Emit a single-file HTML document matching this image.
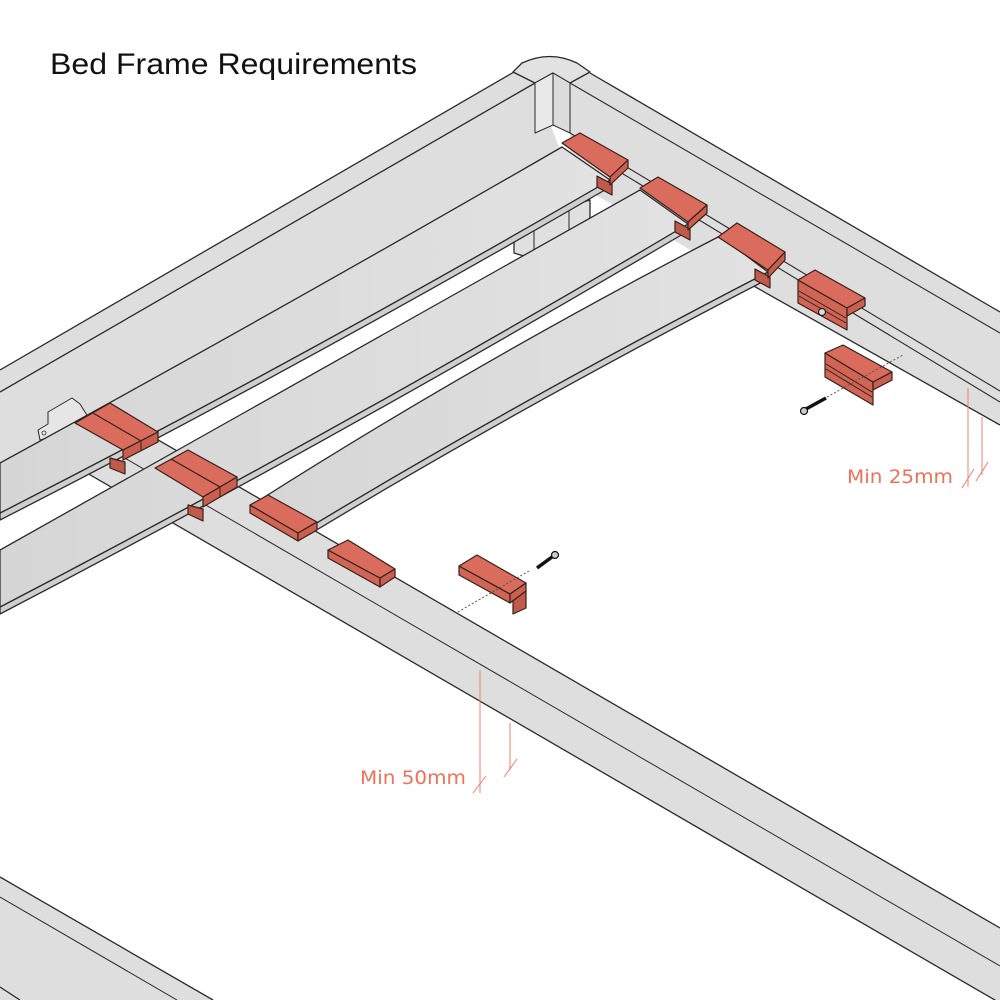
<!DOCTYPE html>
<html><head><meta charset="utf-8"><style>
html,body{margin:0;padding:0;background:#fff;}
svg{display:block;}
</style></head><body>
<svg width="1000" height="1000" viewBox="0 0 1000 1000" xmlns="http://www.w3.org/2000/svg">
<defs>
<linearGradient id="sl" x1="0" y1="0" x2="1" y2="0">
<stop offset="0" stop-color="#d6d6d6"/><stop offset="1" stop-color="#e2e2e2"/>
</linearGradient>
</defs>
<g stroke="#2a2a2a" stroke-width="1.3" stroke-linejoin="round" fill="#dedede">
<polygon points="0,370 514,72 535,83 560,150 0,475" stroke="none"/>
<line x1="0" y1="370" x2="514" y2="72"/>
<line x1="0" y1="392" x2="535" y2="83"/>
<polygon points="570,82 590,73 1000,312 1000,425 720,267 570,180" stroke="none"/>
<line x1="590" y1="73" x2="1000" y2="312"/>
<line x1="570" y1="83" x2="1000" y2="333" stroke-width="1.1"/>
<line x1="570" y1="133" x2="1000" y2="391" stroke-width="1.1"/>
<line x1="600" y1="160" x2="1000" y2="402" stroke-width="1.1"/>
<line x1="720" y1="267" x2="1000" y2="425"/>
<path d="M513,72 L522,63 Q550,50 577,63 L590,72 L570,83 L553,73 L535,83 Z" fill="#e2e2e2"/>
<polygon points="535,83 553,73 553,125 535,133" fill="#e8e8e8" stroke-width="1"/>
<polygon points="553,73 570,83 570,133 553,125" fill="#dcdcdc" stroke-width="1"/>
<polygon points="514,222 590,200 590,285 570,300 553,297 553,265 514,253" fill="#e0e0e0"/>
<line x1="534" y1="220" x2="534" y2="262" stroke-width="1"/>
<line x1="569" y1="205" x2="569" y2="300" stroke-width="1"/>
<polygon points="60,440 110,412 1000,928 1000,1003 60,458" stroke="none"/>
<line x1="110" y1="412" x2="1000" y2="928"/>
<line x1="80" y1="432" x2="1000" y2="966" stroke-width="1"/>
<line x1="80" y1="469" x2="1000" y2="1003"/>
<polygon points="0,877 213,1000 0,1000" stroke="none"/>
<line x1="0" y1="877" x2="213" y2="1000"/>
<line x1="0" y1="897" x2="177" y2="1000" stroke-width="1"/>
<line x1="0" y1="987" x2="20" y2="1000"/>
<path d="M40,440 L38,430 L48,424 L48,412 L72,398 L80,404 L90,420 L75,430 Z" fill="#e6e6e6" stroke-width="1"/>
<circle cx="44" cy="433" r="2" fill="none" stroke-width="0.8"/>
<path d="M0,513 Q300,360 610,180 L610,187 Q300,367 0,520 Z" fill="#cfcfcf"/>
<path d="M0,463 Q280,310 562,147 L610,180 Q300,360 0,513 Z" fill="url(#sl)"/>
<path d="M0,607 Q340,430 688,224 L688,231 Q340,437 0,614 Z" fill="#cfcfcf"/>
<path d="M0,550 Q320,370 640,190 L688,224 Q340,430 0,607 Z" fill="url(#sl)"/>
<path d="M310,527 Q520,400 768,272 L768,279 Q520,407 310,534 Z" fill="#cfcfcf"/>
<path d="M255,503 Q480,360 720,236 L768,272 Q520,400 310,527 Z" fill="url(#sl)"/>
</g>
<g stroke="#3a1f1a" stroke-width="1.2" stroke-linejoin="round" fill="#d96c5c">
<polygon points="597,176 612,184 612,195 597,187" fill="#c05a4b"/>
<polygon points="562,143 580,133 628,160 610,177"/>
<polygon points="610,177 628,160 628,168 610,185" fill="#c9604f"/>
<polygon points="675,221 690,229 690,240 675,232" fill="#c05a4b"/>
<polygon points="640,188 658,177 707,205 688,222"/>
<polygon points="688,222 707,205 707,213 688,230" fill="#c9604f"/>
<polygon points="755,269 770,277 770,288 755,280" fill="#c05a4b"/>
<polygon points="718,237 737,223 785,252 768,270"/>
<polygon points="768,270 785,252 785,260 768,278" fill="#c9604f"/>
<polygon points="798,280 847,308 847,330 798,303" fill="#cf6555"/>
<polygon points="798,280 815,270 865,298 847,308"/>
<polygon points="847,308 865,298 865,306 847,316" fill="#c9604f"/>
<line x1="799" y1="291" x2="846" y2="318" stroke-width="1"/>
<line x1="799" y1="296" x2="846" y2="323" stroke-width="1"/>
<circle cx="822" cy="312" r="3.5" fill="#ddd" stroke="#222"/>
<polygon points="825,353 873,382 873,405 825,377" fill="#cf6555"/>
<polygon points="825,353 843,345 892,372 873,382"/>
<polygon points="873,382 892,372 892,380 873,390" fill="#c9604f"/>
<line x1="826" y1="364" x2="872" y2="392" stroke-width="1"/>
<line x1="826" y1="369" x2="872" y2="397" stroke-width="1"/>
<polygon points="110,458 125,462 125,474 110,468" fill="#c05a4b"/>
<polygon points="75,423 110,403 158,432 123,450"/>
<polygon points="123,450 158,432 158,442 123,460" fill="#c9604f"/>
<line x1="93" y1="413" x2="141" y2="441"/>
<line x1="141" y1="441" x2="141" y2="451" stroke-width="1"/>
<polygon points="188,505 203,509 203,521 188,514" fill="#c05a4b"/>
<polygon points="155,468 188,450 237,477 203,497"/>
<polygon points="203,497 237,477 237,487 203,507" fill="#c9604f"/>
<line x1="171" y1="459" x2="220" y2="487"/>
<line x1="220" y1="487" x2="220" y2="497" stroke-width="1"/>
<polygon points="250,505 298,533 298,541 250,513" fill="#cf6555"/>
<polygon points="250,505 268,495 317,522 298,533"/>
<polygon points="298,533 317,522 317,530 298,541" fill="#c9604f"/>
<polygon points="328,550 380,578 380,587 328,558" fill="#cf6555"/>
<polygon points="328,550 348,540 395,569 380,578"/>
<polygon points="380,578 395,569 395,577 380,587" fill="#c9604f"/>
<polygon points="513,598 526,590 526,608 513,614" fill="#c05a4b"/>
<polygon points="459,566 510,594 510,603 459,575" fill="#cf6555"/>
<polygon points="459,566 477,555 526,583 510,594"/>
<polygon points="510,594 526,583 526,591 510,603" fill="#c9604f"/>
</g>
<g stroke="#555" stroke-width="1" stroke-dasharray="2,2" fill="none">
<line x1="827" y1="397" x2="903" y2="355"/>
<line x1="529" y1="571" x2="456" y2="613"/>
</g>
<g stroke="#111" fill="none">
<line x1="806" y1="409" x2="826" y2="398" stroke-width="3.5"/>
<circle cx="804" cy="411" r="3.5" fill="#ccc" stroke-width="1.2"/>
<line x1="537" y1="568" x2="552" y2="557" stroke-width="3.5"/>
<circle cx="555" cy="555" r="3.5" fill="#ccc" stroke-width="1.2"/>
</g>
<g stroke="#f08070" stroke-width="1" fill="none">
<line x1="480" y1="670" x2="480" y2="793"/>
<line x1="510" y1="723" x2="510" y2="770"/>
<line x1="473" y1="793" x2="486" y2="776"/>
<line x1="504" y1="777" x2="517" y2="759"/>
<line x1="968" y1="388" x2="968" y2="487"/>
<line x1="982" y1="417" x2="982" y2="475"/>
<line x1="962" y1="488" x2="974" y2="469"/>
<line x1="976" y1="481" x2="988" y2="462"/>
</g>
<g font-family="'DejaVu Sans','Liberation Sans',sans-serif" font-size="19" fill="#f0705a">
<text x="360" y="784" textLength="106" lengthAdjust="spacingAndGlyphs">Min 50mm</text>
<text x="847" y="483" textLength="106" lengthAdjust="spacingAndGlyphs">Min 25mm</text>
</g>
<text x="50" y="74" font-family="'Liberation Sans','DejaVu Sans',sans-serif" font-size="30" fill="#111" textLength="367" lengthAdjust="spacingAndGlyphs">Bed Frame Requirements</text>
</svg>
</body></html>
